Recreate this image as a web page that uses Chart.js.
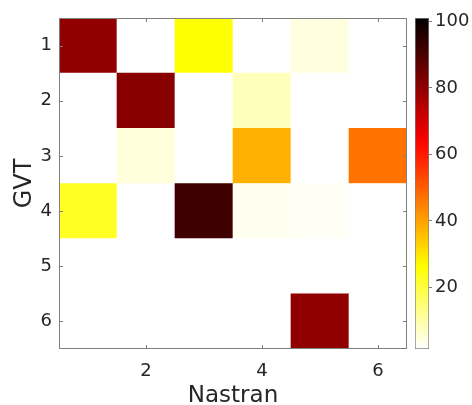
<!DOCTYPE html>
<html>
<head>
<meta charset="utf-8">
<script src="https://cdn.jsdelivr.net/npm/chart.js@4"></script>
<style>
  body { margin: 0; background: #fff; }
  #wrap { position: relative; width: 472px; height: 405px; }
  #main { position: absolute; left: 0; top: 0; }
  #cbar { position: absolute; left: 400px; top: 0; }
</style>
</head>
<body>
<div id="wrap">
  <canvas id="main" width="472" height="405"></canvas>
  <canvas id="cbar" width="72" height="405"></canvas>
</div>
<script>
// GVT (filas) vs Nastran (columnas)
const filasGVT = [1, 2, 3, 4, 5, 6];
const columnasNastran = [1, 2, 3, 4, 5, 6];
const valores = [
  [80, 0, 26, 0, 4.5, 0],
  [0, 81, 0, 8, 0, 0],
  [0, 5, 0, 38, 0, 47],
  [23, 0, 92, 3, 2.5, 0],
  [0, 0, 0, 0, 0, 0],
  [0, 0, 0, 0, 80, 0]
];
const ticksX = [2, 4, 6];
const ticksBarra = [20, 40, 60, 80, 100];
const rangoColor = [1.5, 101];

const textoColor = '#262626';
const ejeColor = '#808080';
Chart.defaults.font.family = 'DejaVu Sans';
Chart.defaults.color = textoColor;

// mapa "hot" invertido (blanco -> amarillo -> rojo -> negro)
function hot(t) {
  const c = v => Math.max(0, Math.min(1, v));
  const r = c(t / 0.375), g = c((t - 0.375) / 0.375), b = c((t - 0.75) / 0.25);
  return `rgb(${Math.round(r * 255)},${Math.round(g * 255)},${Math.round(b * 255)})`;
}
function colorDe(v) {
  const t = (v - rangoColor[0]) / (rangoColor[1] - rangoColor[0]);
  return hot(1 - Math.max(0, Math.min(1, t)));
}

const celdas = [];
const colores = [];
filasGVT.forEach((fila, i) => {
  columnasNastran.forEach((col, j) => {
    celdas.push({ x: col, y: [fila - 0.5, fila + 0.5] });
    colores.push(colorDe(valores[i][j]));
  });
});

// marco y marcas hacia dentro (estilo MATLAB)
const marco = {
  id: 'marco',
  afterDatasetsDraw(chart) {
    const { ctx, chartArea: a, scales } = chart;
    ctx.save();
    ctx.strokeStyle = ejeColor;
    ctx.lineWidth = 1;
    ctx.strokeRect(a.left + 0.5, a.top + 0.5, a.right - a.left - 1, a.bottom - a.top - 1);
    ctx.beginPath();
    ticksX.forEach(v => {
      const px = Math.round(scales.x.getPixelForValue(v)) + 0.5;
      ctx.moveTo(px, a.top); ctx.lineTo(px, a.top + 4);
      ctx.moveTo(px, a.bottom); ctx.lineTo(px, a.bottom - 4);
    });
    filasGVT.forEach(v => {
      const py = Math.round(scales.y.getPixelForValue(v)) + 0.5;
      ctx.moveTo(a.left, py); ctx.lineTo(a.left + 4, py);
      ctx.moveTo(a.right, py); ctx.lineTo(a.right - 4, py);
    });
    ctx.stroke();
    ctx.restore();
  }
};

new Chart(document.getElementById('main'), {
  type: 'bar',
  data: {
    datasets: [{
      data: celdas,
      backgroundColor: colores,
      borderWidth: 0,
      barPercentage: 1,
      categoryPercentage: 1
    }]
  },
  options: {
    responsive: false,
    animation: false,
    layout: { padding: { left: 0, top: 18, right: 65, bottom: 0 } },
    plugins: { legend: { display: false }, tooltip: { enabled: false } },
    scales: {
      x: {
        type: 'linear',
        offset: false,
        min: 0.5,
        max: 6.5,
        afterBuildTicks: ax => { ax.ticks = ticksX.map(v => ({ value: v })); },
        afterFit: ax => { ax.height = 56; },
        grid: { display: false, drawTicks: false },
        border: { display: false },
        ticks: { padding: 12, font: { size: 18 }, color: textoColor },
        title: { display: true, text: 'Nastran', font: { size: 23 }, color: textoColor, padding: { top: 0, bottom: -5 } }
      },
      y: {
        type: 'linear',
        reverse: true,
        min: 0.5,
        max: 6.5,
        afterBuildTicks: ax => { ax.ticks = filasGVT.map(v => ({ value: v })); },
        afterFit: ax => { ax.width = 59; },
        grid: { display: false, drawTicks: false },
        border: { display: false },
        ticks: { padding: 7, font: { size: 18 }, color: textoColor },
        title: { display: true, text: 'GVT', font: { size: 24 }, color: textoColor, padding: { top: 10, bottom: 0 } }
      }
    }
  },
  plugins: [marco]
});

// barra de colores
new Chart(document.getElementById('cbar'), {
  type: 'bar',
  data: {
    labels: [''],
    datasets: [{
      data: [rangoColor],
      backgroundColor: c => {
        const a = c.chart.chartArea;
        if (!a) return '#fff';
        const g = c.chart.ctx.createLinearGradient(0, a.bottom, 0, a.top);
        for (let k = 0; k <= 20; k++) g.addColorStop(k / 20, hot(1 - k / 20));
        return g;
      },
      borderColor: ejeColor,
      borderWidth: 1,
      borderSkipped: false,
      barPercentage: 1,
      categoryPercentage: 1
    }]
  },
  options: {
    responsive: false,
    animation: false,
    layout: { padding: { left: 15, top: 18, right: 0, bottom: 56 } },
    plugins: { legend: { display: false }, tooltip: { enabled: false } },
    scales: {
      x: { display: false },
      y: {
        position: 'right',
        min: rangoColor[0],
        max: rangoColor[1],
        afterBuildTicks: ax => { ax.ticks = ticksBarra.map(v => ({ value: v })); },
        afterFit: ax => { ax.width = 43; },
        grid: { drawOnChartArea: false, tickLength: 3, color: ejeColor },
        border: { display: false },
        ticks: { padding: 3, font: { size: 18 }, color: textoColor }
      }
    }
  }
});
</script>
</body>
</html>
